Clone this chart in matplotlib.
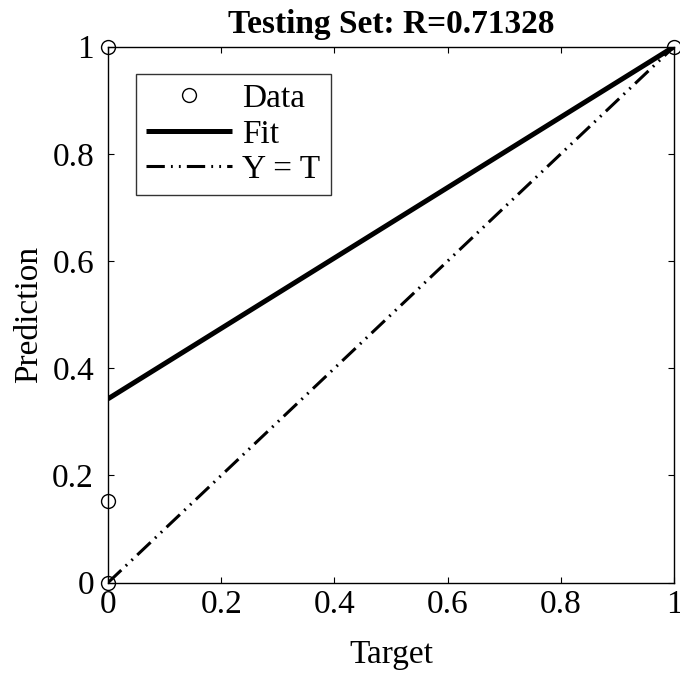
import numpy as np
import matplotlib
matplotlib.use("Agg")
import matplotlib.pyplot as plt

# Data
target = [0, 0, 0, 1]
prediction = [1, 0.153, 0, 1]
fit_slope = 0.657
fit_intercept = 0.343
r_value = "0.71328"
ticks = [0, 0.2, 0.4, 0.6, 0.8, 1]
tick_labels = ["0", "0.2", "0.4", "0.6", "0.8", "1"]

plt.rcParams['font.family'] = ['Liberation Serif', 'DejaVu Serif']

fig = plt.figure(figsize=(6.8, 6.73), dpi=100)
ax = fig.add_axes([0.1588, 0.1342, 0.8324, 0.7964])

xs = np.array([0, 1])
ax.plot(target, prediction, 'o', mfc='none', mec='black', ms=10, mew=1.0,
        clip_on=False, label='Data', zorder=5)
ax.plot(xs, fit_intercept + fit_slope * xs, color='black', lw=3.6, label='Fit',
        solid_capstyle='butt')
ax.plot(xs, xs, color='black', lw=2.2, dashes=(6, 2, 0.6, 2, 0.6, 2), label='Y = T')

ax.set_xlim(0, 1)
ax.set_ylim(0, 1)
ax.set_xticks(ticks)
ax.set_xticklabels(tick_labels)
ax.set_yticks(ticks)
ax.set_yticklabels(tick_labels)
ax.tick_params(direction='in', length=4, width=0.8, top=True, right=True,
               labelsize=24)
ax.tick_params(axis='x', pad=5)
ax.tick_params(axis='y', pad=10)
for s in ax.spines.values():
    s.set_linewidth(1.0)

ax.set_xlabel('Target', fontsize=24, labelpad=14)
ax.set_ylabel('Prediction', fontsize=24, labelpad=6)
ax.set_title('Testing Set: R=' + r_value, fontsize=24, fontweight='bold', pad=10)

leg = ax.legend(loc='upper left', bbox_to_anchor=(0.049, 0.95), borderaxespad=0,
                fontsize=24, frameon=True, fancybox=False, edgecolor='black',
                handlelength=2.6, borderpad=0.3, labelspacing=0.15, handletextpad=0.3)
leg.get_frame().set_linewidth(1.0)

fig.savefig('out.png', dpi=100)
